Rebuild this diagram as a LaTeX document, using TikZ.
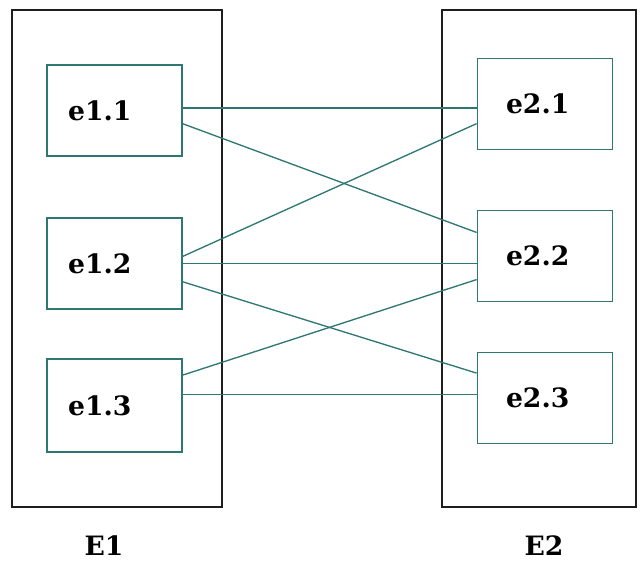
\documentclass[tikz,border=0pt]{standalone}
\usepackage{fontspec}
\setmainfont{DejaVu Serif}
\tikzset{every picture/.style={line width=0.75pt}}
\tikzset{
  elembox/.style={draw={rgb, 255:red, 45; green, 120; blue, 115}, line width=1.1pt, rectangle,
    minimum width=101.5pt, minimum height=68.5pt, inner ysep=0pt, inner xsep=16pt,
    text width=69.5pt, align=left,
    font=\fontsize{20}{24}\selectfont\bfseries},
  elembox2/.style={elembox, inner xsep=21.5pt, text width=58.5pt},
  link/.style={draw={rgb, 255:red, 45; green, 120; blue, 115}, line width=1pt},
  setlabel/.style={font=\fontsize{20}{24}\selectfont\bfseries}
}

\begin{document}
\begin{tikzpicture}[x=0.75pt,y=0.75pt,yscale=-1,xscale=1]
\useasboundingbox (0,0) rectangle (642,562);

%Shape: Rectangle [E1]
\draw [color={rgb, 255:red, 30; green, 30; blue, 30 }, line width=1.5pt] (12,10) rectangle (222,507);
%Shape: Rectangle [E2]
\draw [color={rgb, 255:red, 30; green, 30; blue, 30 }, line width=1.5pt] (442,10) rectangle (636,507);

%Elements of E1
\node [elembox] (e11) at (114.5,110.5) {e1.1};
\node [elembox] (e12) at (114.5,263.5) {e1.2};
\node [elembox, minimum height=70pt] (e13) at (114.5,405.5) {e1.3};
%Elements of E2
\node [elembox2] (e21) at (545,104) {e2.1};
\node [elembox2] (e22) at (545,256) {e2.2};
\node [elembox2] (e23) at (545,398) {e2.3};

%Straight Lines
\draw [link] (e11.2) -- (e11.2 -| e21.west);
\draw [link] (e11.-11) -- (e22.161);
\draw [link] (e12.6) -- (e21.196);
\draw [link] (e12.east) -- (e12.east -| e22.west);
\draw [link] (e12.-15) -- (e23.160);
\draw [link] (e13.24) -- (e22.199);
\draw [link] (e13.9) -- (e13.9 -| e23.west);

%Labels
\node [setlabel] (E1) at (104,546) {E1};
\node [setlabel] (E2) at (544,546) {E2};

\end{tikzpicture}
\end{document}
